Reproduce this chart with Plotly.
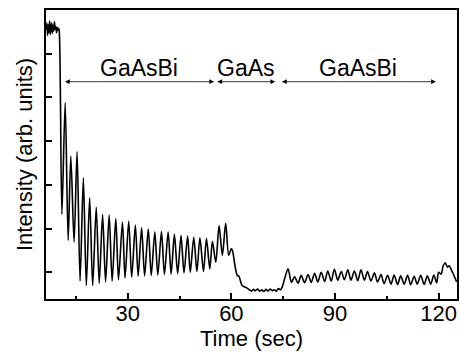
import plotly.graph_objects as go

# Time (s) and RHEED intensity (arb. units)
time_s = [
    6.4, 6.6, 6.8, 7.0, 7.2, 7.4, 7.6, 7.8, 8.0, 8.2, 8.4, 8.6, 8.8, 9.0, 9.2, 9.4, 9.6, 9.8, 10.0, 10.2,
    10.95, 11.90, 12.76, 13.53, 14.48, 15.34, 16.21, 17.16, 18.02, 18.99, 19.86, 20.89, 21.75, 22.73,
    23.59, 24.63, 25.49, 26.55, 27.33, 28.48, 29.22, 30.29, 31.15, 32.21, 33.02, 34.02, 34.89, 35.95,
    36.81, 37.84, 38.71, 39.77, 40.63, 41.70, 42.56, 43.51, 44.45, 45.43, 46.29, 47.33, 48.10, 49.11,
    50.03, 50.89, 51.93, 52.79, 53.76, 54.51, 55.49, 56.44, 57.39, 58.36, 59.22, 59.97, 60.32, 61.03,
    61.70, 62.18, 63.13, 64.57,
    65.2, 65.8, 66.4, 67.0, 67.6, 68.2, 68.8, 69.4, 70.0, 70.6, 71.2, 71.8, 72.4, 73.0, 73.6, 74.2, 74.7, 75.4,
    76.4, 77.4, 78.3, 79.3, 80.2, 81.2, 82.2, 83.1, 84.1, 85.0, 86.0, 87.0, 87.9, 88.9, 89.8, 90.8,
    91.8, 92.7, 93.7, 94.6, 95.6, 96.6, 97.5, 98.5, 99.4, 100.4, 101.4, 102.3, 103.3, 104.2, 105.2,
    106.2, 107.1, 108.1, 109.0, 110.0, 111.0, 111.9, 112.9, 113.8, 114.8, 115.8, 116.7, 117.7, 118.6,
    119.4, 120.0, 120.7, 121.3, 121.9, 122.5, 123.0, 123.6, 124.3, 125.2,
]
intensity = [
    6.55, 6.70, 6.42, 6.66, 6.48, 6.75, 6.44, 6.62, 6.70, 6.47, 6.65, 6.52, 6.73, 6.56, 6.62, 6.48, 6.60, 6.54, 6.58, 6.50,
    2.33, 4.88, 1.73, 3.66, 1.69, 3.76, 0.80, 3.16, 0.70, 2.70, 0.70, 2.49, 0.75, 2.32,
    0.78, 2.31, 0.80, 2.23, 0.83, 2.15, 0.87, 2.17, 0.89, 2.08, 0.91, 2.02, 0.92, 1.99,
    0.93, 1.92, 0.94, 1.93, 0.95, 1.92, 0.96, 1.87, 0.97, 1.84, 0.99, 1.83, 1.00, 1.80,
    1.02, 1.79, 1.02, 1.77, 1.08, 1.71, 1.23, 2.07, 1.39, 2.12, 1.39, 1.54, 1.50, 1.16,
    0.93, 0.91, 0.70, 0.64,
    0.60, 0.57, 0.61, 0.58, 0.62, 0.57, 0.60, 0.56, 0.61, 0.57, 0.62, 0.58, 0.60, 0.57, 0.63, 0.60, 0.66, 0.85,
    1.08, 0.77, 0.90, 0.75, 0.93, 0.76, 0.95, 0.77, 0.98, 0.78, 1.00, 0.79, 1.03, 0.80, 1.07, 0.82,
    1.02, 0.83, 1.06, 0.82, 1.03, 0.81, 1.06, 0.82, 1.02, 0.80, 0.99, 0.78, 0.95, 0.74, 0.93,
    0.73, 0.94, 0.72, 0.92, 0.73, 0.93, 0.72, 0.91, 0.73, 0.93, 0.72, 0.92, 0.73, 0.94,
    0.76, 1.00, 0.96, 1.15, 1.22, 1.12, 1.15, 1.07, 0.95, 0.78,
]

# Growth phases (label, start, end) and arrow level
phase_labels = ["GaAsBi", "GaAs", "GaAsBi"]
phase_start = [11.4, 55.5, 74.2]
phase_end = [55.0, 72.7, 119.2]
arrow_level = 5.36
label_level = 5.68

x_ticks = [30, 60, 90, 120]
y_ticks = [1, 2, 3, 4, 5, 6]

FONT = "Liberation Sans, Arial, sans-serif"

fig = go.Figure()
fig.add_trace(go.Scatter(
    x=time_s, y=intensity, mode="lines",
    line=dict(color="black", width=1.6, shape="spline", smoothing=0.8),
    hoverinfo="skip", showlegend=False,
))

for lab, s, e in zip(phase_labels, phase_start, phase_end):
    fig.add_annotation(
        x=e, y=arrow_level, ax=s, ay=arrow_level,
        xref="x", yref="y", axref="x", ayref="y",
        text="", showarrow=True, arrowhead=2, arrowside="end+start",
        arrowsize=1.2, arrowwidth=0.8, arrowcolor="black",
        startarrowhead=2, startarrowsize=1.2, standoff=0, startstandoff=0,
    )
    fig.add_annotation(
        x=(s + e) / 2, y=label_level, xref="x", yref="y",
        text=lab, showarrow=False, font=dict(family=FONT, size=23, color="black"),
    )

fig.update_layout(
    width=460, height=352,
    margin=dict(l=46, r=1, t=10, b=53),
    paper_bgcolor="white", plot_bgcolor="white",
    font=dict(family=FONT, size=22, color="black"),
    xaxis=dict(
        range=[6.35, 125.3], tickvals=x_ticks, ticks="inside", ticklen=6, tickwidth=1.5,
        tickcolor="black", showline=True, linecolor="black", linewidth=1.5, mirror=True,
        showgrid=False, zeroline=False, ticklabelstandoff=-6,
        minor=dict(dtick=30, tick0=15, ticks="inside", ticklen=3, tickwidth=1.5, tickcolor="black", showgrid=False),
        title=dict(text="Time (sec)", font=dict(size=22), standoff=5),
        tickfont=dict(size=22),
    ),
    yaxis=dict(
        range=[0.39, 7.0], tickvals=y_ticks, ticks="inside", ticklen=6, tickwidth=1.5,
        tickcolor="black", showticklabels=False, showline=True, linecolor="black",
        linewidth=1.5, mirror=True, showgrid=False, zeroline=False,
        title=dict(text="Intensity (arb. units)", font=dict(size=22), standoff=6),
    ),
)

fig.write_html("out.html")
